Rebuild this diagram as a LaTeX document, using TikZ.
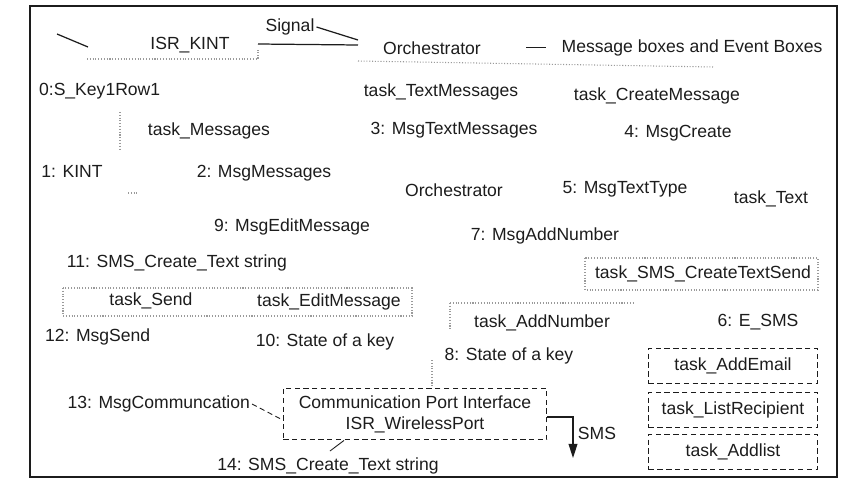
\documentclass[tikz,border=0pt]{standalone}
\usepackage{fontspec}
\setmainfont{Liberation Sans}
\usetikzlibrary{positioning, arrows.meta, calc}
\definecolor{ink}{HTML}{1C1C1C}
\definecolor{fadeink}{HTML}{9A9A9A}

\begin{document}
\begin{tikzpicture}[x=0.02cm, y=-0.02cm,
    lbl/.style={text=ink, font=\fontsize{10}{12}\selectfont, inner sep=1pt},
    taskbox/.style={lbl, draw=ink, densely dashed, line width=0.6pt, minimum width=96pt, minimum height=20pt},
    wire/.style={ink, line width=0.7pt},
    faded/.style={fadeink, densely dotted, line width=0.6pt}]
  \useasboundingbox (0,0) rectangle (843,487);
  \draw[ink, line width=1pt] (30,6) rectangle (837,477);

  % top row
  \node[lbl] (isr)    at (190,45) {ISR\_KINT};
  \node[lbl] (signal) at (290,27) {Signal};
  \node[lbl] (orch1)  at (432,48) {Orchestrator};
  \node[lbl] (boxes)  at (692,48) {Message boxes and Event Boxes};
  \coordinate (isrcut) at (57,34);
  \coordinate (isrnw)  at (88,47);
  \coordinate (isrne)  at (258,44);
  \coordinate (orchw)  at (358,45);
  \coordinate (orchsig) at (358,40);
  \coordinate (dashw)  at (526,47);
  \coordinate (dashe)  at (546,47);
  \draw[wire] (isrcut) -- (isrnw);
  \draw[wire] (isrne) -- (orchw);
  \draw[wire] (signal.east) -- (orchsig);
  \draw[wire, line width=0.4pt] (dashw) -- (dashe);
  \draw[faded] (87,59) -- (258,59) -- (258,50);
  \draw[faded] (358,61) -- (713,67);

  % messages and tasks
  \node[lbl, anchor=west] (key)     at (37,91)   {0:S\_Key1Row1};
  \node[lbl] (tTextMsg) at (441,92)  {task\_TextMessages};
  \node[lbl] (tCreate)  at (657,96)  {task\_CreateMessage};
  \node[lbl] (tMsgs)    at (209,131) {task\_Messages};
  \node[lbl] (m3)       at (454,130) {3: MsgTextMessages};
  \node[lbl] (m4)       at (678,133) {4: MsgCreate};
  \node[lbl] (m1)       at (72,171)  {1: KINT};
  \node[lbl] (m2)       at (264,173) {2: MsgMessages};
  \node[lbl] (orch2)    at (454,190) {Orchestrator};
  \node[lbl] (m5)       at (625,189) {5: MsgTextType};
  \node[lbl] (tText)    at (771,199) {task\_Text};
  \node[lbl] (m9)       at (292,227) {9: MsgEditMessage};
  \node[lbl] (m7)       at (545,236) {7: MsgAddNumber};
  \node[lbl] (m11)      at (177,263) {11: SMS\_Create\_Text string};
  \node[lbl] (tSMS)     at (703,274) {task\_SMS\_CreateTextSend};
  \node[lbl] (tSend)    at (151,301) {task\_Send};
  \node[lbl] (tEdit)    at (329,302) {task\_EditMessage};
  \node[lbl] (tAddNum)  at (542,323) {task\_AddNumber};
  \node[lbl] (m6)       at (758,322) {6: E\_SMS};
  \node[lbl, anchor=west] (m12) at (43,337) {12: MsgSend};
  \node[lbl] (m10)      at (325,342) {10: State of a key};
  \node[lbl] (m8)       at (509,356) {8: State of a key};
  \draw[faded] (120,112) -- (120,150);
  \draw[faded] (128,193) -- (137,193);
  \draw[faded] (585,258) rectangle (818,290);
  \draw[faded] (63,288) rectangle (412,316);
  \draw[faded] (450,303) -- (635,303);
  \draw[faded] (450,303) -- (450,330);

  % right column
  \node[taskbox] (tEmail) at (733,366) {task\_AddEmail};
  \node[taskbox] (tList)  at (733,410) {task\_ListRecipient};
  \node[taskbox] (tAdd)   at (733,452) {task\_Addlist};

  % port
  \node[lbl, draw=ink, densely dashed, line width=0.6pt, align=center,
        minimum width=150pt, minimum height=29.5pt] (port) at (415,414)
        {Communication Port Interface\\ISR\_WirelessPort};
  \node[lbl, anchor=east] (m13) at (252,404) {13: MsgCommuncation};
  \node[lbl] (m14) at (328,466) {14: SMS\_Create\_Text string};
  \node[lbl] (sms) at (597,433) {SMS};
  \coordinate (k8)     at (432,360);
  \coordinate (smsend) at (573,458);
  \draw[faded] (k8) -- (k8 |- port.north);
  \draw[wire, densely dashed, line width=0.5pt] (m13.east) -- (port.west |- 0,420);
  \draw[wire, line width=0.5pt] (330,451) -- (port.south -| 344,0);
  \draw[wire, -{Triangle[length=8pt,width=5pt]}] (port.east |- 0,417) -| (smsend);
\end{tikzpicture}
\end{document}
